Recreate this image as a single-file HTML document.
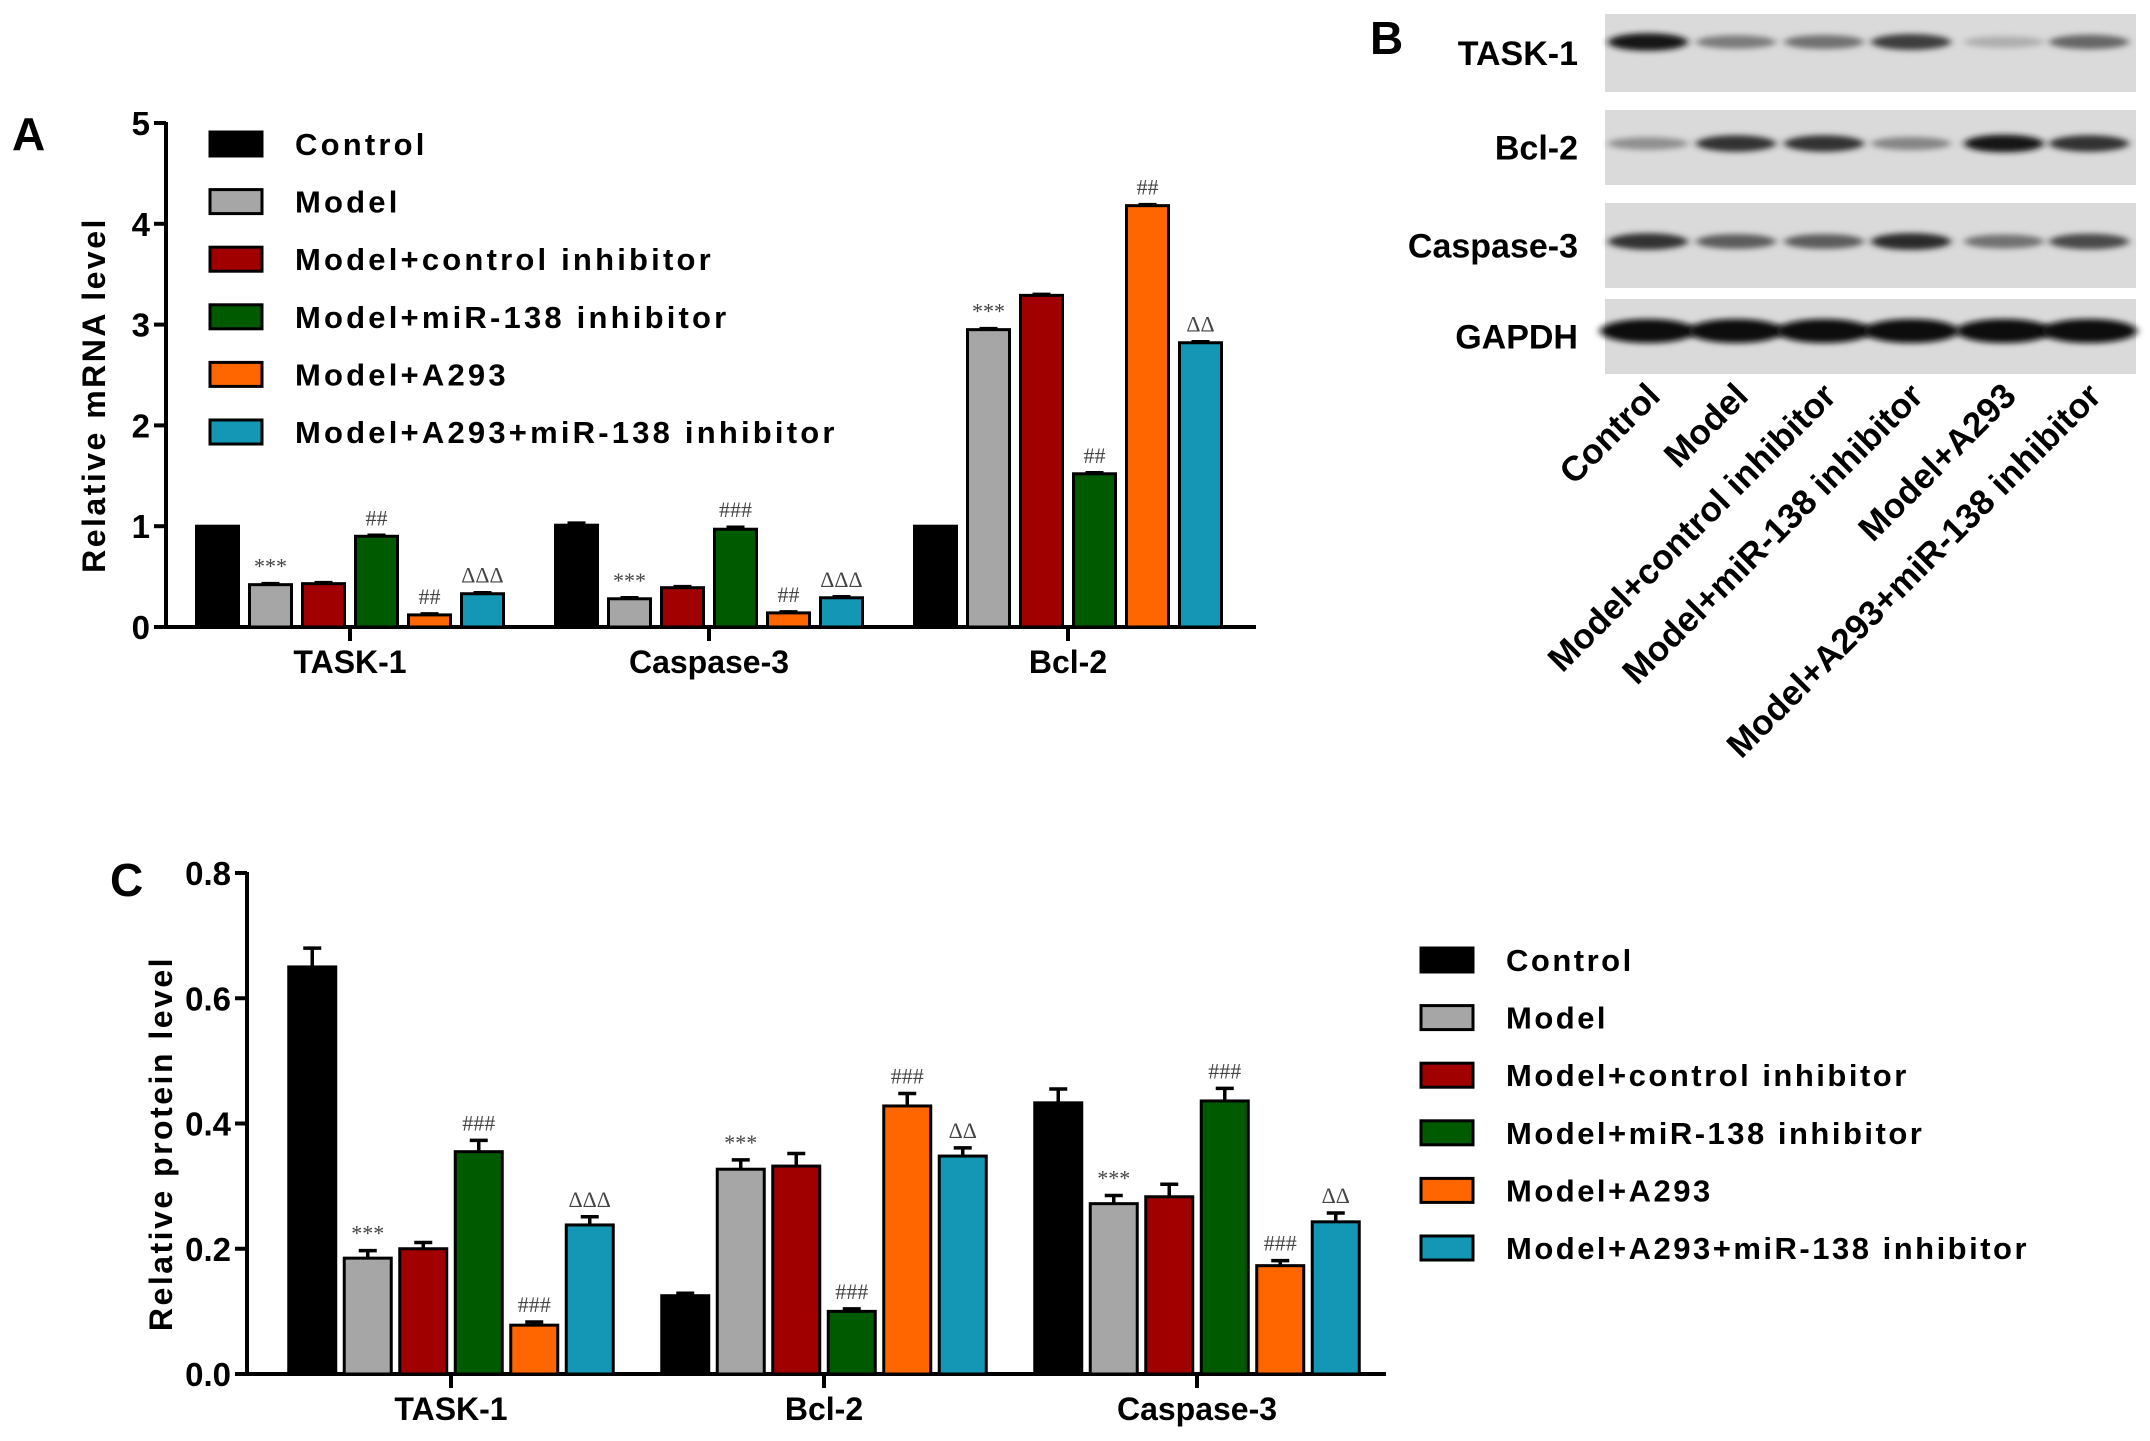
<!DOCTYPE html>
<html><head><meta charset="utf-8"><style>
body{margin:0;background:#fff}
svg{display:block;font-family:"Liberation Sans",Arial,sans-serif}
</style></head><body>
<svg id="fig" width="2150" height="1441" viewBox="0 0 2150 1441">
<defs><filter id="blur" x="-20%" y="-100%" width="140%" height="300%"><feGaussianBlur stdDeviation="4 3"/></filter></defs>
<g id="panelA"></g>
<g id="panelB"></g>
<g id="panelC"></g>
</svg>
<script>
const seriesNames=["Control","Model","Model+control inhibitor","Model+miR-138 inhibitor","Model+A293","Model+A293+miR-138 inhibitor"];
const colors=["#000000","#a6a6a6","#a00000","#005a00","#ff6600","#1497b4"];
const catsA=["TASK-1","Caspase-3","Bcl-2"];
const valsA=[[1,0.42,0.43,0.9,0.12,0.33],[1.01,0.28,0.39,0.97,0.14,0.29],[1,2.95,3.29,1.52,4.18,2.82]];
const errA=[[0,0.01,0.01,0.01,0.01,0.01],[0.02,0.01,0.01,0.02,0.01,0.01],[0,0.01,0.01,0.01,0.01,0.01]];
const sigA=[["","***","","##","##","ΔΔΔ"],["","***","","###","##","ΔΔΔ"],["","***","","##","##","ΔΔ"]];
const ticksA=[0,1,2,3,4,5];
const catsC=["TASK-1","Bcl-2","Caspase-3"];
const valsC=[[0.65,0.185,0.2,0.355,0.078,0.238],[0.125,0.327,0.332,0.1,0.428,0.348],[0.433,0.272,0.283,0.436,0.173,0.243]];
const errC=[[0.03,0.012,0.01,0.018,0.005,0.013],[0.004,0.015,0.02,0.004,0.02,0.013],[0.022,0.013,0.02,0.02,0.008,0.014]];
const sigC=[["","***","","###","###","ΔΔΔ"],["","***","","###","###","ΔΔ"],["","***","","###","###","ΔΔ"]];
const ticksC=[0,0.2,0.4,0.6,0.8];
const blotRows=["TASK-1","Bcl-2","Caspase-3","GAPDH"];
const blotInt=[[0.95,0.45,0.5,0.75,0.2,0.55],[0.35,0.8,0.8,0.4,0.95,0.8],[0.8,0.6,0.6,0.85,0.5,0.7],[1,1,1,1,1,1]];
const NS="http://www.w3.org/2000/svg";
function el(p,t,a){const e=document.createElementNS(NS,t);for(const k in a)e.setAttribute(k,a[k]);p.appendChild(e);return e;}
function txt(p,x,y,s,a){const e=el(p,"text",Object.assign({x:x,y:y},a));e.textContent=s;return e;}

function chart(g,o){
  const y=v=>o.y0-(v-o.min)/(o.max-o.min)*(o.y0-o.yTop);
  const t=txt(g,o.lx,o.ly,o.letter,{"font-size":46,"font-weight":"bold"});
  
  
  const ax=el(g,"line",{x1:o.x0,y1:o.y0+1,x2:o.x0,y2:o.yTop-1,stroke:"#000","stroke-width":4});
  
  
  const xa=el(g,"line",{x1:o.x0-2,y1:o.y0,x2:o.xEnd,y2:o.y0,stroke:"#000","stroke-width":4});
  
  
  o.ticks.forEach(v=>{
    el(g,"line",{x1:o.x0-12,y1:y(v),x2:o.x0,y2:y(v),stroke:"#000","stroke-width":4});
    const tl=txt(g,o.x0-16,y(v)+12,o.fmt(v),{"font-size":33,"font-weight":"bold","text-anchor":"end"});
    
    
  });
  const yt=txt(g,0,0,o.ytitle,{"font-size":32,"font-weight":"bold","text-anchor":"middle","letter-spacing":"2.5",transform:`translate(${o.ytx},${(o.y0+o.yTop)/2+20}) rotate(-90)`});
  
  
  o.cats.forEach((c,ci)=>{
    const cx=o.gx0+ci*o.gStep;
    el(g,"line",{x1:cx,y1:o.y0,x2:cx,y2:o.y0+14,stroke:"#000","stroke-width":4});
    const cl=txt(g,cx,o.y0+46,c,{"font-size":32,"font-weight":"bold","text-anchor":"middle"});
    
    
    o.vals[ci].forEach((v,si)=>{
      const bx=cx+(si-2.5)*o.bStep-o.bw/2;
      const e=o.err[ci][si];
      if(e>0){
        const eb=el(g,"path",{d:`M${bx+o.bw/2},${y(v)} V${y(v+e)} M${bx+o.bw/2-9},${y(v+e)} H${bx+o.bw/2+9}`,stroke:"#000","stroke-width":3.5,fill:"none"});
        
        
      }
      const r=el(g,"rect",{x:bx,y:y(v),width:o.bw,height:o.y0-y(v),fill:colors[si],stroke:"#000","stroke-width":3});
      
      
      const s=o.sig[ci][si];
      if(s){
        const st=txt(g,bx+o.bw/2,y(v+e)-10,s,{"font-size":22,fill:"#444","text-anchor":"middle","font-family":"Liberation Serif, serif"});
        
        
      }
    });
  });
  seriesNames.forEach((n,i)=>{
    const ly=o.legY+i*o.legStep;
    const lb=el(g,"rect",{x:o.legX,y:ly-12,width:52,height:24,fill:colors[i],stroke:"#000","stroke-width":3});
    
    
    const lt=txt(g,o.legX+85,ly+11,n,{"font-size":31,"font-weight":"bold","letter-spacing":o.ls});
    
    
  });
}
chart(document.getElementById("panelA"),{letter:"A",lx:12,ly:150,x0:166,y0:627,yTop:123,xEnd:1256,min:0,max:5,ticks:ticksA,fmt:v=>String(v),
  ytitle:"Relative mRNA level",ytx:105,cats:catsA,vals:valsA,err:errA,sig:sigA,gx0:350,gStep:359,bStep:53,bw:42,legX:210,legY:144,legStep:57.6,ls:"3.2"});
chart(document.getElementById("panelC"),{letter:"C",lx:110,ly:896,x0:247,y0:1374,yTop:873,xEnd:1386,min:0,max:0.8,ticks:ticksC,fmt:v=>v.toFixed(1),
  ytitle:"Relative protein level",ytx:172,cats:catsC,vals:valsC,err:errC,sig:sigC,gx0:451,gStep:373,bStep:55.5,bw:47,legX:1421,legY:960,legStep:57.6,ls:"2.5"});

const gB=document.getElementById("panelB");
const bl=txt(gB,1370,54,"B",{"font-size":46,"font-weight":"bold"});


const stripY=[[14,92],[110,185],[203,288],[299,374]];
const laneX=[1648,1736,1824,1911,2004,2089];
blotRows.forEach((r,ri)=>{
  const [t,b]=stripY[ri];
  const s=el(gB,"rect",{x:1605,y:t,width:531,height:b-t,fill:"#dadada"});
  
  
  const rl=txt(gB,1578,(t+b)/2+12,r,{"font-size":34,"font-weight":"bold","text-anchor":"end"});
  
  
  const cy=ri==0?t+28:ri==3?t+32:(t+b)/2-4;
  blotInt[ri].forEach((v,li)=>{
    const g=Math.round(215-205*v);
    const band=el(gB,"ellipse",{cx:laneX[li],cy:cy,rx:ri==3?48:40,ry:ri==3?12:5+4*v,fill:`rgb(${g},${g},${g})`,filter:"url(#blur)"});
    
    
  });
});
seriesNames.forEach((n,li)=>{
  const lt=txt(gB,0,0,n,{"font-size":35,"font-weight":"bold","text-anchor":"end",transform:`translate(${laneX[li]+14},${398}) rotate(-45)`});
  
  
});
</script>
</body></html>
